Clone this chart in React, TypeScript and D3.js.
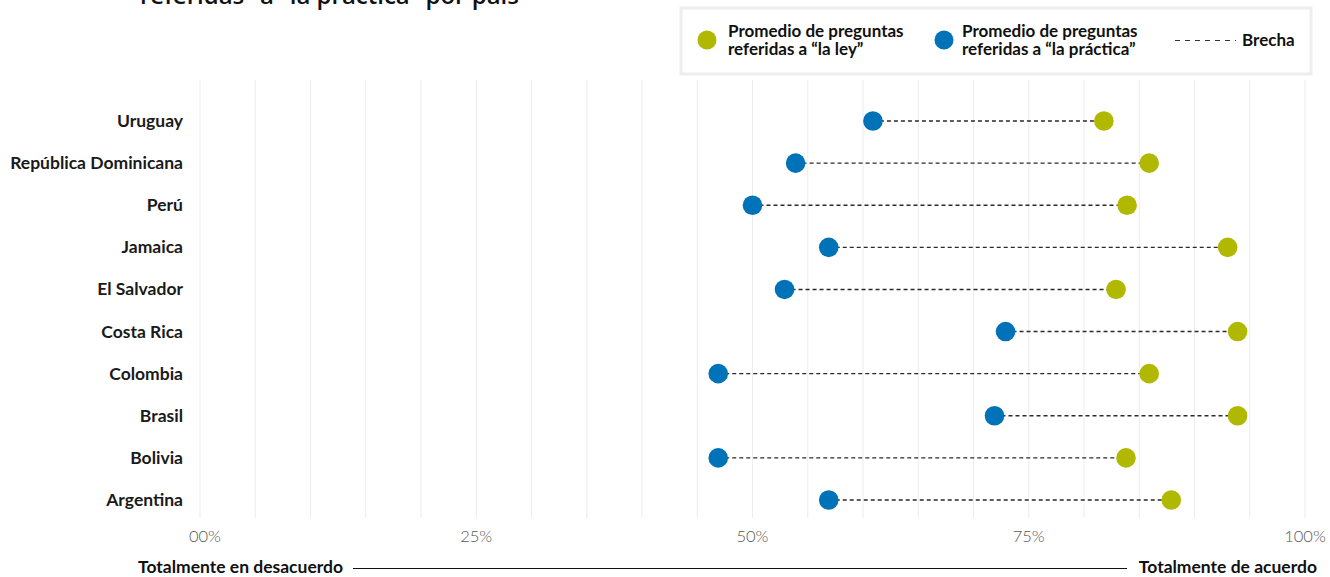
import React from "react";
import * as d3 from "d3";

const countries = [
  "Uruguay",
  "República Dominicana",
  "Perú",
  "Jamaica",
  "El Salvador",
  "Costa Rica",
  "Colombia",
  "Brasil",
  "Bolivia",
  "Argentina",
];
const ley = [81.8, 85.9, 83.9, 93.0, 82.9, 93.9, 85.9, 93.9, 83.8, 87.9];
const practica = [60.9, 53.9, 50.0, 56.9, 52.9, 72.9, 46.9, 71.9, 46.9, 56.9];
const tickValues = [0, 25, 50, 75, 100];
const tickLabels = ["00%", "25%", "50%", "75%", "100%"];
const gridValues = d3.range(0, 101, 5);

const W = 1330;
const H = 577;
const GREEN = "#b0b800";
const BLUE = "#0072b7";

export default function App() {
  const x = d3.scaleLinear().domain([0, 100]).range([200, 1305]);
  const y = d3.scalePoint<string>().domain(countries).range([121, 500]);
  const font = "Lato, 'Noto Sans', sans-serif";
  const fs = 17.5;
  const lfs = 17;

  return (
    <div style={{ position: "absolute", left: 0, top: 0 }}>
      <svg width={W} height={H} style={{ display: "block", background: "#fff" }}>
        <text
          x={140}
          y={4}
          fontFamily="'Open Sans', sans-serif"
          fontWeight={600}
          fontSize={24}
          fill="#111"
        >
          referidas “a” la práctica” por país
        </text>

        {gridValues.map((g) => (
          <line key={g} x1={x(g)} x2={x(g)} y1={80} y2={518} stroke="#ececec" strokeWidth={1} />
        ))}

        {/* legend */}
        <rect x={681} y={8} width={630} height={66} fill="#fff" stroke="#eeeeee" strokeWidth={3} />
        <circle cx={707} cy={40} r={9.5} fill={GREEN} />
        <text x={728} y={36.5} fontFamily={font} fontWeight={700} fontSize={lfs} fill="#111">
          Promedio de preguntas
        </text>
        <text x={728} y={55} fontFamily={font} fontWeight={700} fontSize={lfs} fill="#111">
          referidas a “la ley”
        </text>
        <circle cx={944} cy={40} r={9.5} fill={BLUE} />
        <text x={962} y={36.5} fontFamily={font} fontWeight={700} fontSize={lfs} fill="#111">
          Promedio de preguntas
        </text>
        <text x={962} y={55} fontFamily={font} fontWeight={700} fontSize={lfs} fill="#111">
          referidas a “la práctica”
        </text>
        <line x1={1175} x2={1236} y1={40.5} y2={40.5} stroke="#333" strokeWidth={1.2} strokeDasharray="5,5" />
        <text x={1242} y={46} fontFamily={font} fontWeight={700} fontSize={lfs} fill="#111">
          Brecha
        </text>

        {/* rows */}
        {countries.map((c, i) => {
          const cy = y(c) as number;
          return (
            <g key={c}>
              <text
                x={183}
                y={cy + 6}
                textAnchor="end"
                fontFamily={font}
                fontWeight={700}
                fontSize={fs}
                fill="#1a1a1a"
              >
                {c}
              </text>
              <line
                x1={x(practica[i])}
                x2={x(ley[i])}
                y1={cy}
                y2={cy}
                stroke="#2a2a2a"
                strokeWidth={1.4}
                strokeDasharray="4,3"
              />
              <circle cx={x(practica[i])} cy={cy} r={9.8} fill={BLUE} />
              <circle cx={x(ley[i])} cy={cy} r={9.8} fill={GREEN} />
            </g>
          );
        })}

        {/* x tick labels */}
        {tickValues.map((t, i) => (
          <text
            key={t}
            x={x(t) + (t === 0 ? 5 : 0)}
            y={542}
            textAnchor="middle"
            fontFamily={font}
            fontWeight={300}
            fontSize={16.5}
            fill="#555"
          >
            {tickLabels[i]}
          </text>
        ))}

        {/* bottom scale */}
        <text x={138} y={573} fontFamily={font} fontWeight={700} fontSize={fs} fill="#111">
          Totalmente en desacuerdo
        </text>
        <line x1={353} x2={1127} y1={568.5} y2={568.5} stroke="#111" strokeWidth={1} />
        <text x={1317} y={573} textAnchor="end" fontFamily={font} fontWeight={700} fontSize={fs} fill="#111">
          Totalmente de acuerdo
        </text>
      </svg>
    </div>
  );
}
